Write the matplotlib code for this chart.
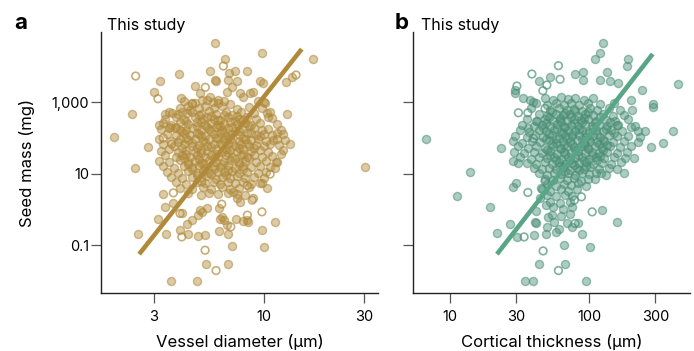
import numpy as np
import matplotlib.pyplot as plt
from matplotlib.colors import to_rgb

plt.rcParams['font.family'] = ['Inter', 'DejaVu Sans']

# values, stored as (log10 x, log10 seed mass in mg)
# panel a: vessel diameter (um)
a_filled = [
    (0.767, 4.656), (0.990, 4.360), (1.234, 4.209), (0.816, 4.201), (0.596, 3.782), (0.506, 3.595),
    (0.745, 3.858), (0.862, 3.858), (0.918, 3.858), (0.835, 3.802), (0.767, 3.615), (0.770, 3.580),
    (0.870, 3.578), (0.830, 3.615), (0.981, 3.578), (0.997, 3.522), (1.105, 3.559), (0.671, 3.447),
    (0.477, 3.279), (0.607, 3.112), (0.371, 2.673), (0.531, 2.665), (0.563, 2.701), (0.287, 2.014),
    (0.447, 1.751), (0.502, 2.349), (1.111, 2.665), (0.385, 1.156), (1.079, 1.556), (1.125, 1.827),
    (0.519, 0.422), (0.495, -0.260), (0.401, -0.668), (0.534, -0.668), (1.054, -0.344), (0.990, -0.575),
    (1.000, -1.050), (0.849, -1.014), (0.726, -1.525), (0.830, -1.525), (0.557, -2.000), (0.680, -2.000),
    (0.601, -0.575), (0.656, -0.296), (0.696, -0.017), (0.728, 0.031), (0.786, -0.603), (0.827, -0.668),
    (0.791, -0.268), (0.867, -0.268), (0.918, -0.296), (0.609, -0.109), (0.569, 0.170), (0.688, -0.735),
    (0.640, -0.668), (1.480, 1.193), (0.529, 0.075), (0.635, -0.408), (0.688, -0.156), (0.704, -0.064),
    (0.720, -0.696), (0.788, 0.047), (0.799, -0.204), (0.810, -0.296), (0.823, -0.436), (0.902, -0.316),
    (0.925, -0.344), (0.854, 0.494), (0.870, 0.310), (0.886, 0.215), (0.910, 0.402), (0.949, 0.310),
    (0.989, 0.729), (1.013, 0.589), (1.052, 1.148), (1.056, 1.332), (1.060, 2.126), (1.044, 1.939),
    (1.013, 2.684), (1.020, 2.589), (1.005, 2.964), (1.135, 3.707), (0.696, 3.243), (0.704, 3.056),
    (0.656, 2.964), (0.743, 3.148), (0.759, 3.008), (0.783, 3.056), (0.823, 3.288), (0.846, 3.427),
    (0.886, 3.243), (0.902, 3.148), (0.933, 3.243), (0.949, 3.288), (0.553, 2.310), (0.577, 2.265),
    (0.601, 2.218), (0.609, 2.729), (0.633, 2.684), (0.648, 2.777),
]
a_cluster = [
    (0.62, 3.03), (0.67, 2.97), (0.73, 3.05), (0.78, 2.98), (0.81, 3.02), (0.84, 2.95), (0.97, 3.04), (1.00, 2.99),
    (0.60, 2.83), (0.64, 2.89), (0.69, 2.82), (0.72, 2.88), (0.76, 2.84), (0.80, 2.90), (0.87, 2.81), (0.93, 2.87), (0.99, 2.84),
    (0.55, 2.72), (0.59, 2.66), (0.66, 2.73), (0.70, 2.68), (0.74, 2.74), (0.77, 2.67), (0.82, 2.71), (0.85, 2.65),
    (0.89, 2.73), (0.95, 2.69), (1.03, 2.72),
    (0.53, 2.53), (0.58, 2.58), (0.62, 2.51), (0.67, 2.57), (0.71, 2.52), (0.73, 2.59), (0.76, 2.54), (0.79, 2.50),
    (0.83, 2.57), (0.88, 2.53), (0.92, 2.58), (0.96, 2.52), (1.04, 2.55),
    (0.52, 2.41), (0.56, 2.36), (0.60, 2.43), (0.64, 2.38), (0.68, 2.44), (0.72, 2.37), (0.75, 2.42), (0.78, 2.35),
    (0.81, 2.40), (0.84, 2.45), (0.87, 2.38), (0.91, 2.42), (0.94, 2.36), (0.98, 2.41), (1.06, 2.39),
    (0.51, 2.24), (0.55, 2.28), (0.63, 2.22), (0.66, 2.27), (0.70, 2.21), (0.74, 2.26), (0.77, 2.29), (0.80, 2.23),
    (0.83, 2.27), (0.86, 2.20), (0.90, 2.25), (0.95, 2.28), (0.99, 2.22), (1.02, 2.26), (1.08, 2.23),
    (0.54, 2.12), (0.58, 2.07), (0.62, 2.13), (0.65, 2.08), (0.69, 2.11), (0.72, 2.05), (0.76, 2.10), (0.79, 2.14),
    (0.82, 2.06), (0.85, 2.11), (0.88, 2.08), (0.92, 2.13), (0.96, 2.07), (1.00, 2.12), (1.04, 2.09), (1.09, 2.11),
    (0.50, 1.96), (0.56, 1.92), (0.60, 1.98), (0.64, 1.93), (0.67, 1.97), (0.71, 1.91), (0.74, 1.96), (0.78, 1.99),
    (0.81, 1.93), (0.84, 1.97), (0.88, 1.92), (0.91, 1.96), (0.94, 1.94), (0.97, 1.98), (1.01, 1.92), (1.06, 1.96), (1.10, 1.93),
    (0.52, 1.82), (0.57, 1.77), (0.62, 1.83), (0.66, 1.78), (0.69, 1.81), (0.73, 1.76), (0.76, 1.84), (0.80, 1.79),
    (0.83, 1.82), (0.86, 1.77), (0.89, 1.83), (0.93, 1.78), (0.96, 1.81), (1.00, 1.76), (1.03, 1.82), (1.07, 1.79),
    (0.51, 1.63), (0.55, 1.68), (0.59, 1.62), (0.63, 1.66), (0.67, 1.61), (0.70, 1.67), (0.73, 1.64), (0.77, 1.68),
    (0.80, 1.62), (0.84, 1.66), (0.87, 1.63), (0.90, 1.68), (0.94, 1.64), (0.98, 1.67), (1.02, 1.62), (1.09, 1.65),
    (0.53, 1.52), (0.58, 1.47), (0.61, 1.53), (0.65, 1.48), (0.68, 1.51), (0.72, 1.46), (0.75, 1.52), (0.78, 1.49),
    (0.82, 1.53), (0.85, 1.47), (0.89, 1.51), (0.92, 1.48), (0.95, 1.52), (0.99, 1.47), (1.04, 1.50),
    (0.50, 1.36), (0.55, 1.32), (0.60, 1.37), (0.64, 1.33), (0.67, 1.36), (0.70, 1.31), (0.74, 1.37), (0.77, 1.34),
    (0.81, 1.32), (0.84, 1.38), (0.88, 1.33), (0.91, 1.36), (0.96, 1.32), (1.01, 1.35), (1.06, 1.33),
    (0.52, 1.21), (0.57, 1.17), (0.62, 1.22), (0.66, 1.18), (0.69, 1.23), (0.72, 1.16), (0.76, 1.21), (0.79, 1.19),
    (0.83, 1.23), (0.86, 1.17), (0.90, 1.21), (0.94, 1.18), (0.98, 1.22), (1.03, 1.19),
    (0.54, 1.06), (0.59, 1.02), (0.64, 1.07), (0.68, 1.03), (0.71, 1.08), (0.74, 1.01), (0.78, 1.06), (0.81, 1.04),
    (0.85, 1.07), (0.88, 1.02), (0.92, 1.06), (0.97, 1.03), (1.01, 1.05),
    (0.56, 0.91), (0.61, 0.87), (0.66, 0.92), (0.70, 0.88), (0.73, 0.93), (0.77, 0.86), (0.80, 0.91), (0.84, 0.89),
    (0.87, 0.93), (0.91, 0.87), (0.95, 0.90), (1.00, 0.88),
    (0.58, 0.76), (0.63, 0.72), (0.68, 0.77), (0.72, 0.73), (0.76, 0.78), (0.79, 0.71), (0.83, 0.76), (0.86, 0.74),
    (0.90, 0.77), (0.94, 0.72), (0.98, 0.75),
    (0.60, 0.61), (0.66, 0.57), (0.71, 0.62), (0.75, 0.58), (0.80, 0.63), (0.84, 0.57), (0.88, 0.60), (0.93, 0.62),
    (0.64, 0.46), (0.70, 0.42), (0.74, 0.47), (0.78, 0.43), (0.83, 0.46), (0.87, 0.44),
]
# denser core of panel a
a_core = [
    (0.69, 2.63), (0.75, 2.60), (0.81, 2.65), (0.87, 2.61),
    (0.63, 2.48), (0.70, 2.45), (0.78, 2.49), (0.86, 2.46), (0.90, 2.49),
    (0.58, 2.31), (0.68, 2.34), (0.73, 2.30), (0.79, 2.33), (0.85, 2.31), (0.93, 2.34),
    (0.61, 2.18), (0.68, 2.15), (0.75, 2.19), (0.81, 2.16), (0.88, 2.18), (0.94, 2.15),
    (0.63, 2.01), (0.70, 2.04), (0.77, 2.00), (0.83, 2.03), (0.90, 2.01), (0.98, 2.04),
    (0.59, 1.88), (0.66, 1.86), (0.72, 1.89), (0.79, 1.85), (0.85, 1.88), (0.92, 1.86),
    (0.61, 1.73), (0.68, 1.71), (0.75, 1.74), (0.82, 1.70), (0.88, 1.73), (0.95, 1.71),
    (0.63, 1.56), (0.70, 1.59), (0.77, 1.56), (0.83, 1.58), (0.90, 1.55),
    (0.62, 1.43), (0.69, 1.41), (0.76, 1.44), (0.86, 1.42), (0.93, 1.43),
    (0.64, 1.27), (0.71, 1.29), (0.80, 1.26), (0.88, 1.28),
    (0.66, 1.12), (0.76, 1.14), (0.83, 1.11), (0.90, 1.13),
    (0.68, 0.97), (0.75, 0.99), (0.82, 0.96),
]
a_open = [
    (0.390, 3.726), (0.496, 3.092), (0.807, 4.006), (1.152, 3.754), (0.720, -1.134), (0.772, -1.701),
    (0.609, -0.763), (0.990, -0.064), (0.921, -0.156), (1.029, 0.989), (0.944, 0.263), (0.921, 0.673),
    (0.569, 0.466), (0.521, 1.994), (0.561, 1.827), (0.659, 2.944), (0.721, 3.411), (0.799, 0.151),
    (0.704, 0.774), (0.601, -0.109), (0.842, -0.483),
]

# panel b: cortical thickness (um)
b_filled = [
    (2.099, 4.656), (2.079, 4.360), (2.043, 4.201), (2.278, 4.209), (2.271, 4.006), (2.638, 3.511),
    (0.822, 1.966), (1.139, 1.036), (1.052, 0.374), (1.288, 0.075), (1.362, 1.715),
    (1.340, -0.659), (1.432, -0.416), (1.540, -2.000), (1.599, -2.000), (1.978, -2.000),
    (1.640, -1.525), (1.827, -1.525), (1.820, -0.994), (2.007, -1.050), (2.199, -0.344),
    (2.091, -0.017), (1.952, -0.668), (1.612, -0.344),
    (1.468, 3.335), (1.463, 3.260), (1.527, 3.103), (1.642, 3.587), (1.717, 3.707),
    (1.899, 3.782), (1.955, 3.846), (1.959, 3.615), (2.079, 3.615), (2.127, 3.846),
    (2.151, 3.587), (2.211, 3.522), (2.379, 3.327), (2.302, 3.056), (2.312, 2.777),
    (2.458, 2.944), (2.458, 2.869), (2.602, 2.190), (2.530, 1.863), (2.446, 1.751),
    (2.322, 1.444), (2.252, 1.008), (2.086, 1.008), (2.300, 2.310), (2.355, 2.190),
    (2.367, 2.031), (2.206, 2.358), (1.455, 1.344), (1.491, 1.304), (1.473, 0.746),
    (1.455, 0.634), (1.563, 2.282), (1.624, 2.478), (1.576, 3.056), (1.595, 3.008),
    (1.484, -0.763), (1.600, -0.715), (1.621, -0.045), (1.617, -0.372), (1.645, 0.310),
    (1.657, 0.589), (1.693, 0.123), (1.705, -0.204), (1.693, -0.668), (1.765, -0.623), (1.921, -0.388),
]
b_cluster = [
    (1.68, 3.12), (1.74, 3.07), (1.80, 3.13), (1.85, 3.08), (1.90, 3.11), (1.96, 3.06), (2.03, 3.10),
    (1.62, 2.97), (1.70, 2.92), (1.76, 2.98), (1.82, 2.93), (1.87, 2.96), (1.93, 2.91), (1.99, 2.97), (2.08, 2.94), (2.18, 2.96),
    (1.58, 2.82), (1.72, 2.77), (1.78, 2.83), (1.84, 2.78), (1.89, 2.81), (1.95, 2.76), (2.01, 2.82), (2.06, 2.79),
    (2.14, 2.83), (2.22, 2.78),
    (1.64, 2.66), (1.70, 2.62), (1.76, 2.68), (1.81, 2.63), (1.86, 2.67), (1.92, 2.61), (1.97, 2.66), (2.03, 2.64),
    (2.10, 2.68), (2.17, 2.62), (2.25, 2.65),
    (1.55, 2.52), (1.62, 2.47), (1.68, 2.53), (1.74, 2.48), (1.79, 2.51), (1.84, 2.46), (1.89, 2.52), (1.94, 2.49),
    (1.99, 2.53), (2.05, 2.47), (2.12, 2.51), (2.19, 2.48), (2.28, 2.52),
    (1.52, 2.36), (1.60, 2.32), (1.66, 2.37), (1.72, 2.33), (1.77, 2.38), (1.82, 2.31), (1.87, 2.36), (1.92, 2.34),
    (1.97, 2.38), (2.02, 2.32), (2.07, 2.36), (2.13, 2.33), (2.20, 2.37), (2.33, 2.34),
    (1.50, 2.21), (1.57, 2.17), (1.64, 2.22), (1.69, 2.18), (1.75, 2.23), (1.80, 2.16), (1.85, 2.21), (1.90, 2.19),
    (1.95, 2.23), (2.00, 2.17), (2.05, 2.21), (2.10, 2.18), (2.16, 2.22), (2.24, 2.19), (2.40, 2.20),
    (1.47, 2.06), (1.55, 2.02), (1.61, 2.07), (1.67, 2.03), (1.73, 2.08), (1.78, 2.01), (1.83, 2.06), (1.88, 2.04),
    (1.93, 2.08), (1.98, 2.02), (2.03, 2.06), (2.08, 2.03), (2.14, 2.07), (2.20, 2.04), (2.28, 2.06),
    (1.45, 1.91), (1.52, 1.87), (1.59, 1.92), (1.65, 1.88), (1.71, 1.93), (1.76, 1.86), (1.81, 1.91), (1.86, 1.89),
    (1.91, 1.93), (1.96, 1.87), (2.01, 1.91), (2.06, 1.88), (2.11, 1.92), (2.17, 1.89), (2.25, 1.91), (2.35, 1.88),
    (1.49, 1.76), (1.56, 1.72), (1.62, 1.77), (1.68, 1.73), (1.74, 1.78), (1.79, 1.71), (1.84, 1.76), (1.89, 1.74),
    (1.94, 1.78), (1.99, 1.72), (2.04, 1.76), (2.09, 1.73), (2.15, 1.77), (2.22, 1.74), (2.30, 1.76),
    (1.46, 1.61), (1.53, 1.57), (1.60, 1.62), (1.66, 1.58), (1.72, 1.63), (1.77, 1.56), (1.82, 1.61), (1.87, 1.59),
    (1.92, 1.63), (1.97, 1.57), (2.02, 1.61), (2.07, 1.58), (2.13, 1.62), (2.20, 1.59), (2.27, 1.61),
    (1.50, 1.46), (1.58, 1.42), (1.64, 1.47), (1.70, 1.43), (1.75, 1.48), (1.80, 1.41), (1.85, 1.46), (1.90, 1.44),
    (1.95, 1.48), (2.00, 1.42), (2.05, 1.46), (2.11, 1.43), (2.18, 1.47), (2.26, 1.44),
    (1.55, 1.31), (1.62, 1.27), (1.68, 1.32), (1.73, 1.28), (1.78, 1.33), (1.83, 1.26), (1.88, 1.31), (1.93, 1.29),
    (1.98, 1.33), (2.03, 1.27), (2.09, 1.31), (2.16, 1.28), (2.23, 1.32),
    (1.60, 1.16), (1.66, 1.12), (1.71, 1.17), (1.76, 1.13), (1.81, 1.18), (1.86, 1.11), (1.91, 1.16), (1.96, 1.14),
    (2.01, 1.18), (2.07, 1.12), (2.14, 1.16), (2.20, 1.13),
    (1.64, 1.01), (1.70, 0.97), (1.75, 1.02), (1.80, 0.98), (1.85, 1.03), (1.90, 0.96), (1.95, 1.01), (2.00, 0.99),
    (2.05, 1.03), (2.12, 0.97),
    (1.68, 0.86), (1.74, 0.82), (1.79, 0.87), (1.84, 0.83), (1.89, 0.88), (1.94, 0.81), (1.99, 0.86), (2.04, 0.84),
    (1.70, 0.71), (1.76, 0.67), (1.82, 0.72), (1.87, 0.68), (1.92, 0.73), (1.98, 0.66),
    (1.66, 0.56), (1.72, 0.52), (1.80, 0.57), (1.85, 0.53), (1.91, 0.56),
    (1.70, 0.41), (1.76, 0.37), (1.83, 0.42), (1.88, 0.38),
    (1.72, 0.21), (1.79, 0.17), (1.86, 0.22),
    (1.74, 0.06), (1.81, 0.02), (1.88, 0.07),
    (1.73, -0.14), (1.80, -0.18), (1.86, -0.13),
    (1.75, -0.34), (1.84, -0.38),
    (1.70, -0.49), (1.78, -0.53), (1.88, -0.48),
]
# denser core of panel b
b_core = [
    (1.73, 2.73), (1.83, 2.70), (1.90, 2.74), (1.99, 2.71),
    (1.71, 2.58), (1.79, 2.55), (1.87, 2.59), (1.96, 2.56), (2.08, 2.58),
    (1.69, 2.42), (1.80, 2.45), (1.89, 2.41), (1.95, 2.44), (2.04, 2.42), (2.15, 2.45),
    (1.67, 2.28), (1.77, 2.26), (1.83, 2.29), (1.93, 2.25), (2.03, 2.28), (2.12, 2.26),
    (1.71, 2.12), (1.81, 2.14), (1.88, 2.11), (1.98, 2.13), (2.06, 2.10), (2.18, 2.13),
    (1.69, 1.98), (1.76, 1.96), (1.85, 1.99), (1.95, 1.96), (2.00, 1.98), (2.10, 1.95),
    (1.73, 1.83), (1.82, 1.81), (1.88, 1.84), (1.97, 1.80), (2.07, 1.83), (2.13, 1.81),
    (1.70, 1.67), (1.80, 1.69), (1.90, 1.66), (1.99, 1.68), (2.10, 1.65),
    (1.72, 1.52), (1.83, 1.54), (1.92, 1.51), (2.02, 1.53), (2.08, 1.50),
    (1.76, 1.37), (1.86, 1.39), (1.96, 1.36), (2.06, 1.38),
    (1.79, 1.22), (1.89, 1.24), (1.98, 1.21),
    (1.83, 1.07), (1.93, 1.09),
]
b_open = [
    (1.779, 4.014), (1.791, 3.634), (1.588, 3.782), (1.667, 3.316), (1.480, 3.447), (1.491, 2.701),
    (1.559, 2.701), (1.683, 2.824), (1.599, 1.986), (1.559, 0.478), (1.683, 0.793), (1.894, 0.263),
    (2.022, -0.064), (1.899, -0.388), (1.669, -1.154), (1.779, -1.701), (1.532, -0.763), (1.696, 3.475),
    (1.945, 0.355),
]

# fitted lines (end points, data units)
vessel_fit = [2.55, 15.1]
seed_fit_a = [0.057, 30000]
cortex_fit = [21.7, 287]
seed_fit_b = [0.057, 21900]

gold = '#b08a3a'
green = '#4b8f77'
green_line = '#58a685'


def unlog(pairs):
    arr = np.array(pairs)
    return 10 ** arr[:, 0], 10 ** arr[:, 1]


def panel(ax, filled, opened, col, line_col, fx, fy):
    rgb = to_rgb(col)
    x, y = unlog(filled)
    ax.scatter(x, y, s=34, facecolor=(*rgb, 0.45), edgecolor=(*rgb, 0.55), linewidth=1.0, zorder=2)
    x, y = unlog(opened)
    ax.scatter(x, y, s=30, facecolor='none', edgecolor=(*rgb, 0.7), linewidth=1.2, zorder=2)
    ax.plot(fx, fy, color=line_col, lw=3.3, solid_capstyle='butt', zorder=3)
    ax.set_xscale('log')
    ax.set_yscale('log')
    ax.set_ylim(0.0047, 90000)
    ax.set_yticks([0.1, 10, 1000])
    ax.minorticks_off()
    for s in ['top', 'right']:
        ax.spines[s].set_visible(False)
    for s in ['left', 'bottom']:
        ax.spines[s].set_linewidth(1.0)
        ax.spines[s].set_color('#222222')
    ax.tick_params(axis='both', length=7, width=0.9, color='#555555', labelsize=10.5)
    ax.tick_params(axis='y', pad=1.5)
    ax.tick_params(axis='x', pad=5)


fig = plt.figure(figsize=(6.94, 3.51), dpi=100)
W, H = 694, 351

ax1 = fig.add_axes([101 / W, 58 / H, 277 / W, 261 / H])
panel(ax1, a_filled + a_cluster + a_core, a_open, gold, gold, vessel_fit, seed_fit_a)
ax1.set_xlim(1.68, 34.8)
ax1.set_xticks([3, 10, 30])
ax1.set_xticklabels(['3', '10', '30'])
ax1.set_yticklabels(['0.1', '10', '1,000'])

ax2 = fig.add_axes([413.3 / W, 58 / H, 276.7 / W, 261 / H])
panel(ax2, b_filled + b_cluster + b_core, b_open, green, green_line, cortex_fit, seed_fit_b)
ax2.set_xlim(5.42, 533)
ax2.set_xticks([10, 30, 100, 300])
ax2.set_xticklabels(['10', '30', '100', '300'])
ax2.set_yticklabels([])

fig.text(14 / W, 1 - 29 / H, 'a', fontsize=16, fontweight='bold', va='baseline')
fig.text(395 / W, 1 - 29 / H, 'b', fontsize=16, fontweight='bold', va='baseline')
fig.text(107 / W, 1 - 30 / H, 'This study', fontsize=11.5, va='baseline')
fig.text(421 / W, 1 - 30 / H, 'This study', fontsize=11.5, va='baseline')

fig.text(27 / W, 1 - 163 / H, 'Seed mass (mg)', fontsize=12, rotation=90, ha='center', va='center')
fig.text(240 / W, 1 - 347 / H, 'Vessel diameter (µm)', fontsize=12, ha='center', va='baseline')
fig.text(552 / W, 1 - 347 / H, 'Cortical thickness (µm)', fontsize=12, ha='center', va='baseline')

fig.savefig('out.png', dpi=100)
